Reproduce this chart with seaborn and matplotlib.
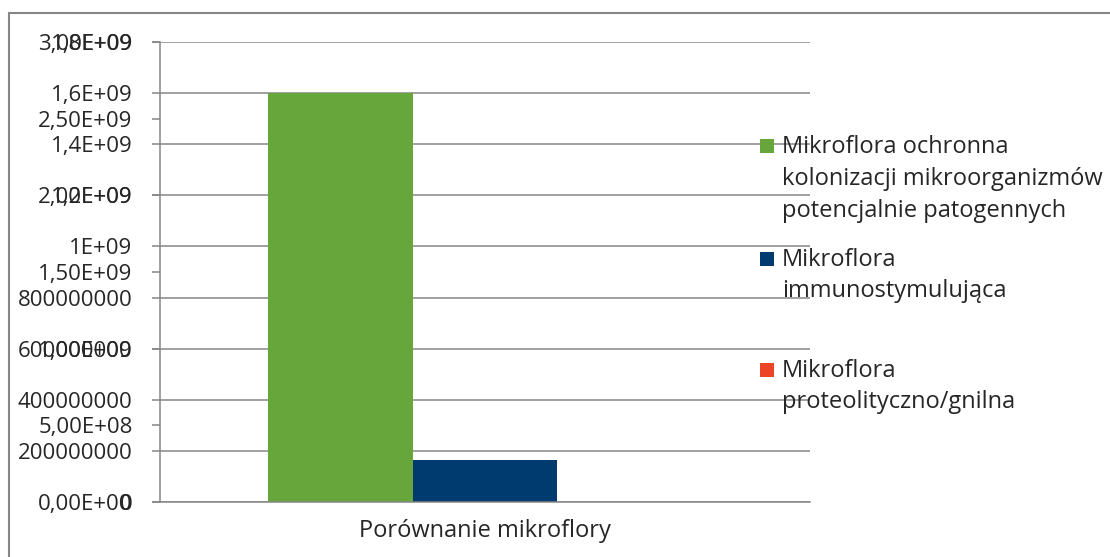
"""
Porównanie mikroflory - odtworzenie wykresu słupkowego z podwójną osią.
"""

import matplotlib
matplotlib.use('Agg')
import matplotlib.pyplot as plt
from matplotlib.patches import Rectangle
import pandas as pd
import seaborn as sns

# Dane
kategorie = ["Porównanie mikroflory"]
serie = [
    "Mikroflora ochronna kolonizacji mikroorganizmów potencjalnie patogennych",
    "Mikroflora immunostymulująca",
    "Mikroflora proteolityczno/gnilna",
]
wartosci = [1.6e9, 1.65e8, 0.0]
kolory = ["#66A63B", "#003B6F", "#EE4426"]

ticki_lewe = [0, 2e8, 4e8, 6e8, 8e8, 1e9, 1.2e9, 1.4e9, 1.6e9, 1.8e9]
etykiety_lewe = ["0", "200000000", "400000000", "600000000", "800000000",
                 "1E+09", "1,2E+09", "1,4E+09", "1,6E+09", "1,8E+09"]
ticki_drugie = [0, 5e8, 1e9, 1.5e9, 2e9, 2.5e9, 3e9]
etykiety_drugie = ["0,00E+00", "5,00E+08", "1,00E+09", "1,50E+09",
                   "2,00E+09", "2,50E+09", "3,00E+09"]

# legenda - etykiety łamane jak w oryginale
legenda_linie = [
    ["Mikroflora ochronna", "kolonizacji mikroorganizmów", "potencjalnie patogennych"],
    ["Mikroflora", "immunostymulująca"],
    ["Mikroflora", "proteolityczno/gnilna"],
]

df = pd.DataFrame({
    "kategoria": kategorie * len(serie),
    "seria": serie,
    "wartosc": wartosci,
})

sns.set_style("white")
plt.rcParams['font.family'] = ['Open Sans', 'DejaVu Sans']

SZARY = "#868686"
W, H = 1110, 557
FS = 17
FS_TICK = 16
TICK_LEN = 5.8  # ok. 8 px

fig = plt.figure(figsize=(W / 100, H / 100), dpi=100)
ax = fig.add_axes([160 / W, 1 - 502 / H, 650 / W, 460 / H])

sns.barplot(data=df, x="kategoria", y="wartosc", hue="seria", palette=kolory,
            width=0.667, gap=0, saturation=1, linewidth=0, legend=False, ax=ax)

ax.set_xlim(-0.5, 0.5)
ax.set_ylim(0, 1.8e9)
ax.set_yticks(ticki_lewe, etykiety_lewe)
ax.set_xlabel('')
ax.set_ylabel('')
ax.grid(axis='y', color=SZARY, linewidth=1.1)
ax.grid(axis='x', visible=False)
ax.set_axisbelow(True)
ax.tick_params(axis='y', length=TICK_LEN, width=1.1, color=SZARY, pad=14, labelsize=FS_TICK)
ax.tick_params(axis='x', which='major', length=0, pad=12, labelsize=FS)
ax.set_xticks([-0.5, 0.5], minor=True)
ax.tick_params(axis='x', which='minor', length=TICK_LEN, width=1.1, color=SZARY)
for s in ['top', 'right']:
    ax.spines[s].set_visible(False)
for s in ['left', 'bottom']:
    ax.spines[s].set_color(SZARY)
    ax.spines[s].set_linewidth(1.1)

# druga oś (nakładające się etykiety po lewej)
ax2 = ax.twinx()
ax2.set_ylim(0, 3e9)
ax2.yaxis.tick_left()
ax2.set_yticks(ticki_drugie, etykiety_drugie)
ax2.grid(False)
ax2.tick_params(axis='y', length=TICK_LEN, width=1.1, color=SZARY, pad=14, labelsize=FS_TICK)
for s in ax2.spines.values():
    s.set_visible(False)

# legenda
baseline_y = [[153, 185, 217], [266, 297], [377, 408]]
for kolor, linie, ys in zip(kolory, legenda_linie, baseline_y):
    fig.add_artist(Rectangle((760 / W, 1 - (ys[0]) / H), 14 / W, 14 / H,
                             transform=fig.transFigure, color=kolor, lw=0))
    for tekst, y in zip(linie, ys):
        fig.text(782 / W, 1 - y / H, tekst, fontsize=FS, va='baseline', ha='left')

# ramka wykresu
fig.add_artist(Rectangle((9 / W, -0.2), 1.2, 1.2 - 13 / H, transform=fig.transFigure,
                         fill=False, edgecolor=SZARY, linewidth=1.5))

fig.savefig('out.png', dpi=100)
